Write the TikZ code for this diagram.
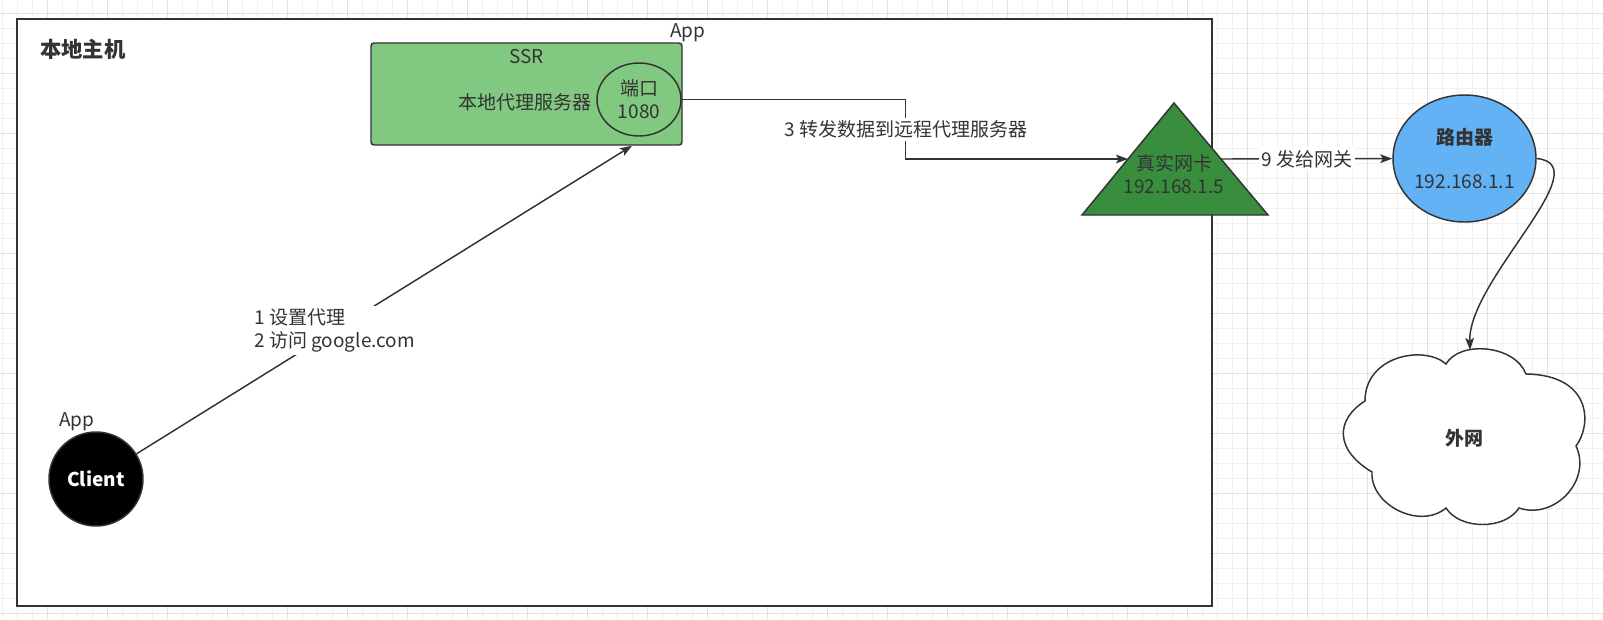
\documentclass[tikz,border=0pt]{standalone}
\usepackage{fontspec}
\setmainfont{Noto Sans CJK SC}
\usetikzlibrary{positioning, calc, arrows.meta, shapes.geometric}

\definecolor{ink}{HTML}{333333}
\definecolor{ssrgreen}{HTML}{81C881}
\definecolor{nicgreen}{HTML}{388E3C}
\definecolor{routerblue}{HTML}{62B2F5}
\definecolor{gridminor}{HTML}{F0F0F0}
\definecolor{gridmajor}{HTML}{E2E2E2}

\begin{document}
\begin{tikzpicture}[
    x=0.75pt, y=-0.75pt,
    every node/.style={text=ink, font=\fontsize{14.25}{17.25}\selectfont},
    hostframe/.style={draw=ink, fill=white, line width=1.5pt},
    ssrbox/.style={draw=ink, fill=ssrgreen, line width=1.1pt, rounded corners=2.25pt, minimum width=233.25pt, minimum height=76.5pt},
    portshape/.style={ellipse, draw=ink, line width=1.1pt, minimum width=63pt, minimum height=54.75pt, align=center, inner sep=0pt},
    clientshape/.style={circle, draw=ink, fill=black, line width=1.1pt, minimum size=70.5pt, text=white, font=\fontsize{14.25}{17.25}\selectfont\bfseries},
    routershape/.style={ellipse, draw=ink, fill=routerblue, line width=1.1pt, minimum width=107.25pt, minimum height=95.25pt, align=center, inner sep=0pt},
    nicshape/.style={draw=ink, fill=nicgreen, line width=1.1pt},
    cloudshape/.style={draw=ink, fill=white, line width=1.1pt},
    plain/.style={inner sep=0pt},
    edgelbl/.style={fill=white, inner sep=2pt},
    conn/.style={draw=ink, line width=1.1pt},
    >={Stealth[length=9pt, width=6.5pt, inset=2pt]}
]
   \useasboundingbox (0,0) rectangle (1603,619);

   % background grid
   \foreach \gx in {2.3,17.3,...,1603} \draw[gridminor, line width=0.75pt] (\gx,0) -- (\gx,619);
   \foreach \gy in {13.3,28.3,...,619} \draw[gridminor, line width=0.75pt] (0,\gy) -- (1603,\gy);
   \foreach \gx in {47,107,...,1603} \draw[gridmajor, line width=0.75pt] (\gx,0) -- (\gx,619);
   \foreach \gy in {13.3,73.3,...,619} \draw[gridmajor, line width=0.75pt] (0,\gy) -- (1603,\gy);

   % local host frame
   \draw[hostframe] (17,19) rectangle (1212,606);
   \node[plain, anchor=west, font=\fontsize{16}{19}\selectfont\bfseries] (host) at (40,49) {本地主机};

   % SSR with its port
   \node[ssrbox] (ssr) at (526.5,94) {};
   \node (ssrname) at ($(ssr.north)+(0,14)$) {SSR};
   \node (ssrdesc) at (525,102) {本地代理服务器};
   \node[portshape] (port) at (639,99.5) {端口\\1080};
   \node[plain, anchor=base west] (ssrapp) at (670,37) {App};
   \coordinate (ssrin) at ($(ssr.south)+(105.5,0)$);

   % client
   \node[clientshape] (client) at (96,479) {Client};
   \node[plain, anchor=base west] (clientapp) at (59,426) {App};

   % real network card
   \coordinate (nicl) at (1082,215);
   \coordinate (nictop) at (1174,103);
   \coordinate (nicr) at (1268,215);
   \draw[nicshape] (nicl) -- (nictop) -- (nicr) -- cycle;
   \node[align=center] (nic) at (1174,174) {真实网卡\\192.168.1.5};
   \coordinate (nicin) at ($(nicl)!0.5!(nictop)$);
   \coordinate (nicout) at ($(nicr)!0.5!(nictop)$);

   % router
   \node[routershape] (router) at (1464.5,158.5) {\textbf{路由器}\\[16pt]192.168.1.1};

   % internet cloud
   \draw[cloudshape] (1365,401)
      .. controls (1335,420) and (1335,450) .. (1372,472)
      .. controls (1370,505) and (1420,530) .. (1446,508)
      .. controls (1460,530) and (1505,530) .. (1519,508)
      .. controls (1555,520) and (1592,480) .. (1576,446)
      .. controls (1592,425) and (1592,375) .. (1526,374)
      .. controls (1515,345) and (1460,340) .. (1446,364)
      .. controls (1425,345) and (1365,355) .. cycle;
   \node[font=\fontsize{14.25}{17.25}\selectfont\bfseries] (wan) at (1464,438) {外网};
   \coordinate (wantop) at (1470,350);

   % connectors
   \draw[conn, ->] (client) -- (ssrin)
      node[edgelbl, align=left, pos=0.4] {1 设置代理\\2 访问 google.com};
   \draw[conn, ->] (port.east) -- ++(224,0) coordinate (bend)
      -- (bend |- nicin) node[edgelbl, midway] {3 转发数据到远程代理服务器}
      -- (nicin);
   \draw[conn, ->] (nicout) -- (router) node[edgelbl, midway] {9 发给网关};
   \draw[conn, ->] (router.east) .. controls +(64,6.5) and +(-2,-70) .. (wantop);
\end{tikzpicture}
\end{document}
